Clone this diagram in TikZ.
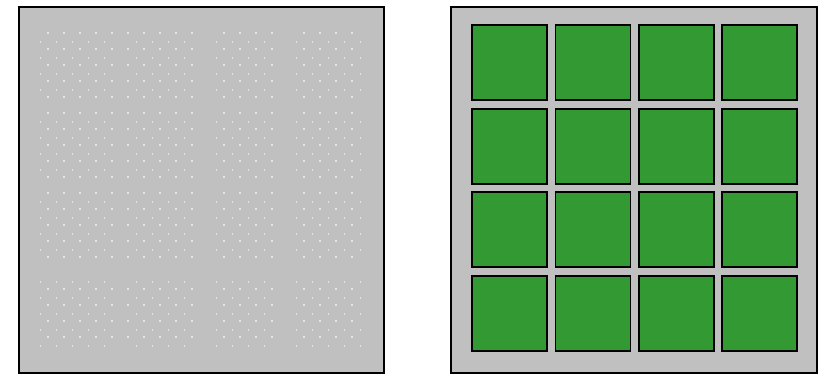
\documentclass[tikz,border=0pt]{standalone}
\definecolor{panelgray}{HTML}{C0C0C0}
\definecolor{tilegreen}{HTML}{339933}
\definecolor{dotbright}{HTML}{F4F4F4}
\definecolor{dotdim}{HTML}{E2E2E2}
\tikzset{
  panel/.style={draw=black, fill=panelgray, line width=1.6pt},
  tile/.style={draw=black, fill=tilegreen, line width=1.2pt},
  brightdot/.style={fill=dotbright},
  dimdot/.style={fill=dotdim},
}
\begin{document}
\begin{tikzpicture}[x=0.75pt,y=-0.75pt]
\useasboundingbox (0,0) rectangle (818,374);
% left panel
\node[panel, minimum width=365*0.75pt, minimum height=366*0.75pt, inner sep=0pt, anchor=north west] (left) at (18,6) {};
% dim dots
\foreach \x in {40,56,72,88,104,136,152,168,184,216,232,248,264,296,312,328,344,360}{
  \foreach \y in {42,58,74,90,122,138,154,170,202,218,234,250,282,298,314,330,346}{
    \fill[dimdot] (\x-0.5,\y-1) rectangle (\x+0.5,\y+1);
  }
}
% bright dots
\foreach \x in {48,64,80,96,112,128,144,160,176,192,224,240,256,272,304,320,336,352}{
  \foreach \y in {33,49,65,81,97,113,129,145,161,177,193,209,225,241,257,289,305,321,337}{
    \fill[brightdot] (\x,\y) circle (1.1);
  }
}
% right panel
\node[panel, minimum width=366*0.75pt, minimum height=366*0.75pt, inner sep=0pt, anchor=north west] (right) at (450,6) {};
\foreach \i/\x in {1/471,2/554.5,3/638,4/721}{
  \foreach \j/\y in {1/24,2/108,3/191,4/275}{
    \node[tile, minimum width=75*0.75pt, minimum height=75*0.75pt, inner sep=0pt, anchor=north west] (t\i\j) at (\x,\y) {};
  }
}
\end{tikzpicture}
\end{document}
